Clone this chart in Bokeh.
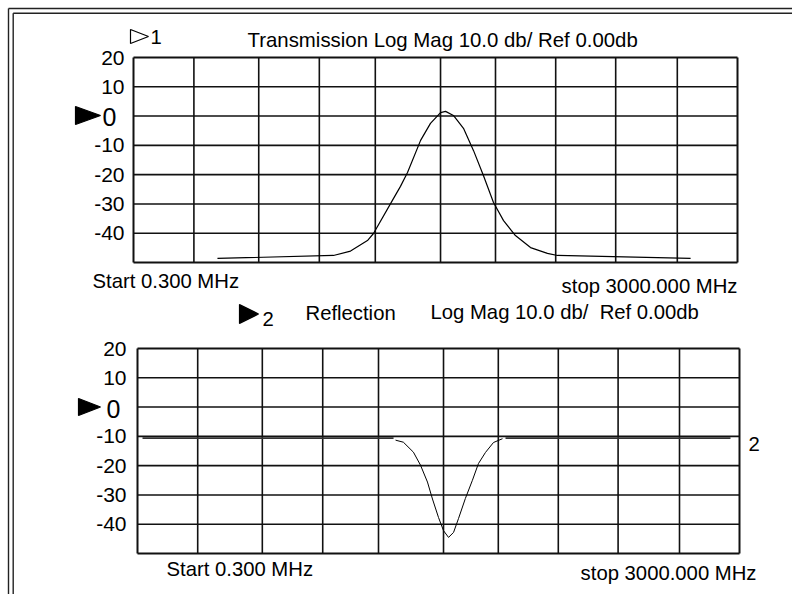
from bokeh.plotting import figure
from bokeh.models import Range1d, FixedTicker, Label, PolyAnnotation, LinearAxis
from bokeh.embed import file_html
from bokeh.resources import INLINE

# ---- data ----
freq_grid = [0, 300, 622, 923, 1201, 1525, 1798, 2097, 2395, 2701, 3000]   # MHz, vertical grid
db_grid = [20, 10, 0, -10, -20, -30, -40, -50]                             # dB, horizontal grid
db_ticks = [20, 10, 0, -10, -20, -30, -40]                                 # labelled dB ticks
tick_labels = ["20", "10", "", "-10", "-20", "-30", "-40"]

trans_freq = [417, 993, 1078, 1162, 1192, 1286, 1326, 1361, 1426, 1475, 1525, 1550,
              1589, 1639, 1689, 1738, 1788, 1838, 1897, 1972, 2056, 2106, 2767]
trans_db = [-48.6, -47.6, -46.1, -42.5, -40.1, -28.8, -24.0, -19.3, -8.3, -2.5, 1.2, 1.6,
            0.2, -4.2, -11.8, -20.3, -29.5, -35.7, -40.8, -44.9, -46.9, -47.6, -48.6]

refl_left_freq = [25, 1276]
refl_left_db = [-10.6, -10.6]
refl_dip_freq = [1286, 1325, 1375, 1410, 1445, 1470, 1500, 1525, 1550, 1575, 1600,
                 1634, 1669, 1699, 1734, 1774, 1819]
refl_dip_db = [-11.3, -12.0, -15.4, -19.8, -25.6, -31.4, -37.7, -42.2, -44.5, -42.8, -38.0,
               -31.2, -25.0, -19.3, -15.5, -12.1, -10.8]
refl_right_freq = [1834, 2955]
refl_right_db = [-10.6, -10.6]

F_START, F_STOP = 0, 3000
DB_TOP, DB_BOT = 20, -50

# ---- layout (canvas pixels) ----
W, H = 792, 594
P1 = dict(left=133, right=737, top=57, bottom=262)   # transmission plot area
P2 = dict(left=137, right=739, top=348, bottom=553)  # reflection plot area
FONT = "Liberation Sans"
INK = "#111111"


def xmap(P):
    k = (F_STOP - F_START) / (P["right"] - P["left"])
    return lambda px: F_START + (px - P["left"]) * k


def ymap(P):
    k = (DB_TOP - DB_BOT) / (P["bottom"] - P["top"])
    return lambda py: DB_TOP - (py - P["top"]) * k


x1, y1, x2, y2 = xmap(P1), ymap(P1), xmap(P2), ymap(P2)

p = figure(width=W, height=H, output_backend="svg", toolbar_location=None,
           x_range=Range1d(x1(0), x1(W)), y_range=Range1d(y1(H), y1(0)),
           min_border=0, x_axis_location=None, y_axis_location=None)
p.extra_x_ranges = {"refl": Range1d(x2(0), x2(W))}
p.extra_y_ranges = {"refl": Range1d(y2(H), y2(0))}
p.grid.visible = False
p.outline_line_color = None
p.background_fill_color = "white"
p.border_fill_color = "white"


def yaxis(rname, standoff):
    kw = {} if rname is None else dict(x_range_name=rname, y_range_name=rname)
    ax = LinearAxis(fixed_location=F_START, ticker=FixedTicker(ticks=db_ticks),
                    major_label_overrides=dict(zip(db_ticks, tick_labels)), **kw)
    ax.axis_line_color = None
    ax.major_tick_line_color = None
    ax.minor_tick_line_color = None
    ax.major_tick_in = 0
    ax.major_tick_out = 0
    ax.major_label_standoff = standoff
    ax.major_label_text_font = FONT
    ax.major_label_text_font_size = "21px"
    ax.major_label_text_color = "black"
    p.add_layout(ax, "left")


def grid(rname):
    kw = {} if rname is None else dict(x_range_name=rname, y_range_name=rname)
    inner_f = freq_grid[1:-1]
    inner_d = db_grid[1:-1]
    p.segment(x0=inner_f, y0=DB_BOT, x1=inner_f, y1=DB_TOP, line_color=INK, line_width=1.6, **kw)
    p.segment(x0=F_START, y0=inner_d, x1=F_STOP, y1=inner_d, line_color=INK, line_width=1.6, **kw)
    edge_f = [freq_grid[0], freq_grid[-1]]
    edge_d = [db_grid[0], db_grid[-1]]
    p.segment(x0=edge_f, y0=DB_BOT, x1=edge_f, y1=DB_TOP, line_color=INK, line_width=2, **kw)
    p.segment(x0=F_START, y0=edge_d, x1=F_STOP, y1=edge_d, line_color=INK, line_width=2, **kw)


def lab(xm, ym, px, py, text, size="20.3px", align="left", rname=None):
    # py is the vertical centre of the text's capitals
    kw = {} if rname is None else dict(x_range_name=rname, y_range_name=rname)
    p.add_layout(Label(x=xm(px), y=ym(py), text=text, text_font=FONT, text_font_size=size,
                       text_align=align, text_baseline="middle", text_color="black", **kw))


def tri(pts, fill):
    # annotation drawn in the default (canvas-aligned) coordinate frame
    p.add_layout(PolyAnnotation(xs=[x1(a) for a, b in pts], ys=[y1(b) for a, b in pts],
                                fill_color=fill, fill_alpha=1, line_color="black",
                                line_alpha=1, line_width=1.2))


# ---- transmission panel ----
grid(None)
yaxis(None, 9)
p.line(trans_freq, trans_db, line_color="black", line_width=1.2)
tri([(130, 29), (130, 43), (148, 36)], "white")
lab(x1, y1, 150, 36.5, "1")
lab(x1, y1, 247, 39, "Transmission Log Mag 10.0 db/ Ref 0.00db", size="20.4px")
tri([(75, 106), (75, 124), (100, 115)], "black")
lab(x1, y1, 102, 116.5, "0", size="25px")
lab(x1, y1, 92, 280.5, "Start 0.300 MHz")
lab(x1, y1, 737, 285, "stop 3000.000 MHz", align="right")

# ---- reflection panel ----
grid("refl")
yaxis("refl", 11)
p.line(refl_left_freq, refl_left_db, line_color="#333333", line_width=1.8,
       x_range_name="refl", y_range_name="refl")
p.line(refl_dip_freq, refl_dip_db, line_color="black", line_width=1.0,
       x_range_name="refl", y_range_name="refl")
p.line(refl_right_freq, refl_right_db, line_color="#333333", line_width=1.8,
       x_range_name="refl", y_range_name="refl")
tri([(239, 304), (239, 323), (258, 313.5)], "black")
lab(x2, y2, 262, 318.5, "2", rname="refl")
lab(x2, y2, 305, 312, "Reflection", rname="refl")
lab(x2, y2, 430, 311.5, "Log Mag 10.0 db/\u00a0 Ref 0.00db", rname="refl")
lab(x2, y2, 748, 443.5, "2", rname="refl")
tri([(78, 398), (78, 415), (100, 406.5)], "black")
lab(x2, y2, 106, 408.5, "0", size="25px", rname="refl")
lab(x2, y2, 166, 568.5, "Start 0.300 MHz", rname="refl")
lab(x2, y2, 756, 572, "stop 3000.000 MHz", align="right", rname="refl")

# ---- double frame line (top and left edges of the display) ----
p.multi_line(xs=[[x1(8), x1(W)], [x1(12.7), x1(W)], [x1(8), x1(8)], [x1(12.7), x1(12.7)]],
             ys=[[y1(8), y1(8)], [y1(12.7), y1(12.7)], [y1(8), y1(H)], [y1(12.7), y1(H)]],
             line_color="#222222", line_width=1.4)

open("out.html", "w").write(file_html(p, INLINE))
